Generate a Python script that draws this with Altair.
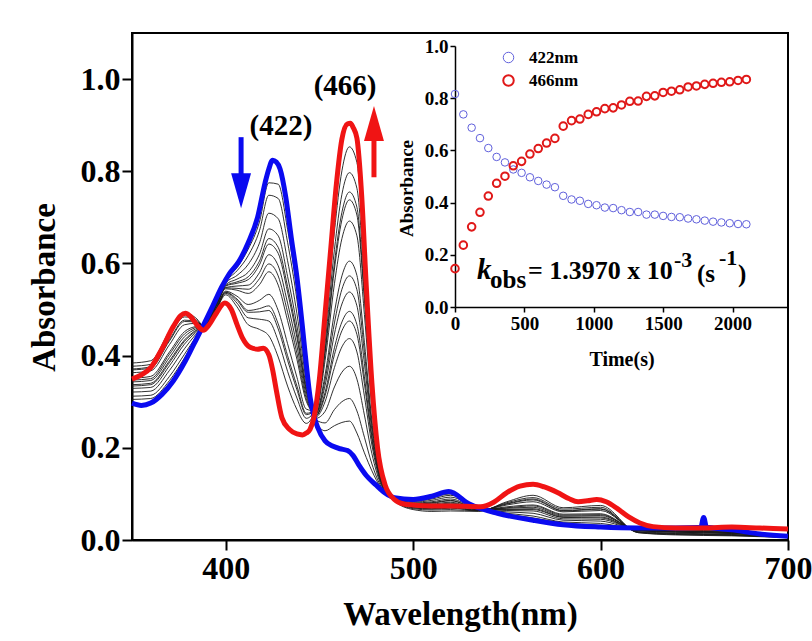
import altair as alt
import pandas as pd

FONT = "Liberation Serif"

# ---------------- main spectra ----------------
blue_nm = [350, 355, 360, 366, 372, 378, 383, 388, 393, 398, 402, 407, 412, 417, 421, 423, 425, 427,
           429, 432, 435, 438, 441, 443, 445, 447, 449, 453, 457, 461, 465, 468, 471, 475, 480, 485,
           490, 500, 510, 519, 530, 545, 564, 580, 600, 620, 640, 652, 653.5, 655, 656.5, 658, 670, 685, 700]
blue_abs = [0.297, 0.292, 0.297, 0.316, 0.345, 0.385, 0.425, 0.465, 0.507, 0.550, 0.578, 0.604, 0.645,
            0.700, 0.775, 0.805, 0.824, 0.820, 0.805, 0.745, 0.655, 0.570, 0.460, 0.380, 0.310, 0.270,
            0.245, 0.215, 0.204, 0.198, 0.194, 0.183, 0.163, 0.140, 0.120, 0.102, 0.092, 0.088, 0.095,
            0.105, 0.078, 0.058, 0.043, 0.033, 0.028, 0.026, 0.026, 0.027, 0.028, 0.049, 0.028, 0.027,
            0.022, 0.013, 0.008]

red_nm = [350, 355, 360, 366, 372, 376, 378.5, 381, 385, 388, 391, 395, 399.5, 403, 406, 409, 413, 417,
          420, 423, 425, 427, 430, 434, 438, 441, 443, 445, 447, 450, 453, 456, 459, 462, 465, 466.5,
          468, 470, 472.5, 475, 478, 481, 485, 490, 495, 500, 510, 520, 536, 543, 550, 557, 564, 570,
          577, 583, 588, 593, 598, 603, 609, 615, 621, 628, 640, 655, 670, 685, 700]
red_abs = [0.349, 0.358, 0.374, 0.415, 0.463, 0.487, 0.492, 0.486, 0.465, 0.455, 0.466, 0.492, 0.514,
           0.500, 0.468, 0.438, 0.418, 0.414, 0.416, 0.402, 0.370, 0.325, 0.265, 0.240, 0.230, 0.228,
           0.232, 0.240, 0.265, 0.350, 0.490, 0.630, 0.770, 0.870, 0.903, 0.904, 0.895, 0.872, 0.750,
           0.550, 0.340, 0.200, 0.120, 0.088, 0.078, 0.076, 0.074, 0.074, 0.072, 0.082, 0.103, 0.117,
           0.121, 0.115, 0.103, 0.090, 0.083, 0.085, 0.088, 0.083, 0.068, 0.050, 0.037, 0.029, 0.026,
           0.026, 0.028, 0.026, 0.024]

# intermediate (thin black) spectra: one row per wavelength, one value per spectrum
black_nm = [350, 360, 370, 378, 384, 389, 395, 400, 406, 412, 418, 423, 428, 433, 438, 443, 448, 453,
            458, 462, 466, 470, 474, 478, 483, 490, 500, 510, 520, 535, 550, 564, 580, 600, 620, 640,
            670, 700]
black_rows = [
    [0.305, 0.312, 0.321, 0.329, 0.334, 0.337, 0.343, 0.347, 0.351, 0.363, 0.369, 0.371, 0.377, 0.384],
    [0.307, 0.314, 0.323, 0.331, 0.337, 0.340, 0.346, 0.350, 0.355, 0.367, 0.373, 0.376, 0.381, 0.389],
    [0.346, 0.355, 0.368, 0.378, 0.385, 0.389, 0.396, 0.403, 0.408, 0.424, 0.432, 0.435, 0.443, 0.453],
    [0.395, 0.403, 0.415, 0.425, 0.431, 0.434, 0.441, 0.447, 0.452, 0.467, 0.474, 0.477, 0.484, 0.493],
    [0.437, 0.440, 0.446, 0.450, 0.453, 0.455, 0.458, 0.461, 0.463, 0.470, 0.473, 0.474, 0.478, 0.482],
    [0.469, 0.469, 0.468, 0.467, 0.467, 0.467, 0.466, 0.466, 0.465, 0.464, 0.464, 0.464, 0.463, 0.462],
    [0.520, 0.518, 0.516, 0.513, 0.512, 0.511, 0.510, 0.508, 0.507, 0.504, 0.503, 0.502, 0.501, 0.499],
    [0.563, 0.560, 0.557, 0.554, 0.552, 0.551, 0.548, 0.547, 0.545, 0.540, 0.538, 0.537, 0.535, 0.532],
    [0.591, 0.584, 0.574, 0.566, 0.560, 0.557, 0.551, 0.546, 0.542, 0.529, 0.523, 0.520, 0.514, 0.506],
    [0.631, 0.617, 0.598, 0.581, 0.571, 0.565, 0.553, 0.544, 0.535, 0.511, 0.498, 0.494, 0.482, 0.467],
    [0.690, 0.671, 0.644, 0.620, 0.605, 0.597, 0.580, 0.567, 0.554, 0.520, 0.502, 0.495, 0.479, 0.457],
    [0.775, 0.748, 0.709, 0.675, 0.654, 0.642, 0.619, 0.599, 0.582, 0.533, 0.508, 0.498, 0.475, 0.443],
    [0.772, 0.741, 0.697, 0.660, 0.635, 0.622, 0.595, 0.573, 0.553, 0.498, 0.469, 0.458, 0.432, 0.397],
    [0.674, 0.646, 0.606, 0.572, 0.550, 0.538, 0.514, 0.494, 0.476, 0.426, 0.400, 0.390, 0.366, 0.334],
    [0.543, 0.521, 0.491, 0.465, 0.448, 0.439, 0.421, 0.405, 0.392, 0.353, 0.334, 0.326, 0.308, 0.283],
    [0.368, 0.358, 0.345, 0.333, 0.326, 0.322, 0.314, 0.307, 0.301, 0.284, 0.275, 0.272, 0.264, 0.253],
    [0.258, 0.261, 0.264, 0.267, 0.269, 0.270, 0.272, 0.274, 0.275, 0.280, 0.282, 0.283, 0.285, 0.288],
    [0.237, 0.254, 0.279, 0.300, 0.313, 0.320, 0.335, 0.347, 0.358, 0.389, 0.405, 0.411, 0.426, 0.445],
    [0.248, 0.283, 0.332, 0.374, 0.402, 0.417, 0.447, 0.471, 0.494, 0.556, 0.588, 0.601, 0.630, 0.670],
    [0.255, 0.300, 0.364, 0.419, 0.454, 0.473, 0.512, 0.544, 0.573, 0.654, 0.695, 0.711, 0.750, 0.801],
    [0.258, 0.307, 0.377, 0.437, 0.475, 0.496, 0.538, 0.573, 0.605, 0.692, 0.738, 0.755, 0.797, 0.853],
    [0.232, 0.280, 0.349, 0.408, 0.446, 0.467, 0.508, 0.543, 0.574, 0.660, 0.705, 0.722, 0.763, 0.819],
    [0.189, 0.223, 0.271, 0.312, 0.339, 0.354, 0.383, 0.407, 0.429, 0.489, 0.521, 0.533, 0.562, 0.601],
    [0.150, 0.165, 0.187, 0.206, 0.218, 0.225, 0.238, 0.249, 0.259, 0.286, 0.301, 0.306, 0.319, 0.337],
    [0.112, 0.115, 0.119, 0.122, 0.125, 0.126, 0.129, 0.131, 0.133, 0.138, 0.141, 0.142, 0.144, 0.147],
    [0.091, 0.091, 0.090, 0.090, 0.089, 0.089, 0.089, 0.088, 0.088, 0.087, 0.087, 0.086, 0.086, 0.085],
    [0.086, 0.084, 0.082, 0.080, 0.079, 0.078, 0.077, 0.076, 0.075, 0.072, 0.070, 0.070, 0.068, 0.066],
    [0.092, 0.089, 0.086, 0.083, 0.081, 0.080, 0.078, 0.076, 0.075, 0.070, 0.068, 0.067, 0.065, 0.062],
    [0.100, 0.097, 0.093, 0.089, 0.086, 0.085, 0.082, 0.080, 0.078, 0.073, 0.070, 0.069, 0.066, 0.063],
    [0.069, 0.069, 0.068, 0.067, 0.067, 0.067, 0.066, 0.066, 0.065, 0.064, 0.064, 0.064, 0.063, 0.062],
    [0.056, 0.058, 0.061, 0.064, 0.066, 0.067, 0.069, 0.070, 0.072, 0.076, 0.078, 0.079, 0.081, 0.083],
    [0.048, 0.052, 0.058, 0.063, 0.066, 0.068, 0.071, 0.074, 0.076, 0.083, 0.087, 0.089, 0.092, 0.097],
    [0.037, 0.039, 0.043, 0.046, 0.049, 0.050, 0.052, 0.054, 0.056, 0.061, 0.063, 0.064, 0.067, 0.070],
    [0.032, 0.036, 0.041, 0.045, 0.048, 0.050, 0.053, 0.055, 0.057, 0.064, 0.067, 0.068, 0.071, 0.075],
    [0.025, 0.024, 0.023, 0.022, 0.022, 0.021, 0.021, 0.020, 0.020, 0.018, 0.017, 0.017, 0.016, 0.016],
    [0.025, 0.023, 0.022, 0.020, 0.020, 0.019, 0.018, 0.017, 0.017, 0.015, 0.014, 0.013, 0.012, 0.011],
    [0.021, 0.020, 0.018, 0.017, 0.016, 0.016, 0.015, 0.014, 0.014, 0.012, 0.011, 0.011, 0.010, 0.009],
    [0.009, 0.009, 0.008, 0.008, 0.007, 0.007, 0.007, 0.007, 0.007, 0.006, 0.006, 0.006, 0.006, 0.005],
]

peak_labels = ["(422)", "(466)"]
peak_label_nm = [429.5, 463.7]
peak_label_abs = [0.879, 0.965]

# arrows (wavelength, shaft start, shaft end, head centre)
blue_arrow = {"nm": [408.2], "A": [0.874], "A2": [0.775], "head": [0.758]}
red_arrow = {"nm": [479.1], "A": [0.787], "A2": [0.87], "head": [0.9035]}

# ---------------- inset kinetics ----------------
time_s = [0, 60, 120, 180, 240, 300, 360, 420, 480, 540, 600, 660, 720, 780, 840, 900, 960, 1020,
          1080, 1140, 1200, 1260, 1320, 1380, 1440, 1500, 1560, 1620, 1680, 1740, 1800, 1860, 1920,
          1980, 2040, 2100]
a422 = [0.816, 0.738, 0.687, 0.647, 0.609, 0.575, 0.554, 0.527, 0.514, 0.497, 0.483, 0.469, 0.459,
        0.426, 0.412, 0.407, 0.395, 0.390, 0.381, 0.379, 0.371, 0.364, 0.364, 0.354, 0.354, 0.349,
        0.345, 0.344, 0.339, 0.336, 0.331, 0.327, 0.324, 0.321, 0.318, 0.317]
a466 = [0.147, 0.237, 0.307, 0.363, 0.425, 0.474, 0.501, 0.541, 0.558, 0.586, 0.607, 0.628, 0.646,
        0.693, 0.714, 0.720, 0.738, 0.748, 0.760, 0.763, 0.774, 0.788, 0.789, 0.807, 0.809, 0.822,
        0.827, 0.832, 0.843, 0.847, 0.853, 0.857, 0.861, 0.863, 0.868, 0.872]
series_names = ["422nm", "466nm"]
kobs_anchor = {"t": [158.6], "A": [0.106]}

# ---------------- build tables ----------------
blue_df = pd.DataFrame({"nm": blue_nm, "A": blue_abs})
red_df = pd.DataFrame({"nm": red_nm, "A": red_abs})
rows = []
for i, w in enumerate(black_nm):
    for k, v in enumerate(black_rows[i]):
        rows.append({"nm": w, "A": v, "curve": k})
black_df = pd.DataFrame(rows)
lab_df = pd.DataFrame({"nm": peak_label_nm, "A": peak_label_abs, "label": peak_labels})
kin_df = pd.concat([
    pd.DataFrame({"t": time_s, "A": a422, "series": series_names[0]}),
    pd.DataFrame({"t": time_s, "A": a466, "series": series_names[1]}),
])
anchor_df = pd.DataFrame(kobs_anchor)

BLUE = "#0a0af0"
RED = "#f01414"

xm = alt.X("nm:Q", scale=alt.Scale(domain=[350, 700], nice=False, zero=False),
           axis=alt.Axis(values=[400, 500, 600, 700], title="Wavelength(nm)", grid=False,
                         labelFont=FONT, labelFontWeight="bold", labelFontSize=32, labelColor="black",
                         titleFont=FONT, titleFontWeight="bold", titleFontSize=33, titleColor="black",
                         tickSize=10, tickWidth=2, tickColor="black", domainWidth=2, domainColor="black",
                         labelPadding=3, labelFlush=False, labelOverlap=False,
                         titleX=328, titleY=84, titleBaseline="alphabetic"))
ym = alt.Y("A:Q", scale=alt.Scale(domain=[0, 1.1], nice=False, zero=False),
           axis=alt.Axis(values=[0, 0.2, 0.4, 0.6, 0.8, 1.0], format=".1f", title="Absorbance", grid=False,
                         labelFont=FONT, labelFontWeight="bold", labelFontSize=32, labelColor="black",
                         titleFont=FONT, titleFontWeight="bold", titleFontSize=33, titleColor="black",
                         tickSize=10, tickWidth=2, tickColor="black", domainWidth=2, domainColor="black",
                         labelPadding=2, labelFlush=False, labelOverlap=False,
                         titleX=-88, titleY=254, titleBaseline="middle"))

black_layer = alt.Chart(black_df).mark_line(color="#1a1a1a", strokeWidth=0.9, interpolate="monotone").encode(
    x=xm, y=ym, detail="curve:N")
blue_layer = alt.Chart(blue_df).mark_line(color=BLUE, strokeWidth=5, interpolate="monotone",
                                          strokeJoin="round").encode(x=xm, y=ym)
red_layer = alt.Chart(red_df).mark_line(color=RED, strokeWidth=5, interpolate="monotone",
                                        strokeJoin="round").encode(x=xm, y=ym)
lab_layer = alt.Chart(lab_df).mark_text(font=FONT, fontWeight="bold", fontSize=29, align="center",
                                        baseline="alphabetic", color="black").encode(x=xm, y=ym, text="label:N")

DOWN = "M-0.57,-1L0.57,-1L0,1Z"
UP = "M-0.57,1L0.57,1L0,-1Z"
ba_df = pd.DataFrame(blue_arrow)
ra_df = pd.DataFrame(red_arrow)
b_shaft = alt.Chart(ba_df).mark_rule(color=BLUE, strokeWidth=5).encode(x=xm, y=ym, y2="A2:Q")
r_shaft = alt.Chart(ra_df).mark_rule(color=RED, strokeWidth=5).encode(x=xm, y=ym, y2="A2:Q")
b_head = alt.Chart(ba_df).mark_point(shape=DOWN, filled=True, size=1225, color=BLUE, opacity=1,
                                     strokeWidth=0).encode(x=xm, y=alt.Y("head:Q"))
r_head = alt.Chart(ra_df).mark_point(shape=UP, filled=True, size=1225, color=RED, opacity=1,
                                     strokeWidth=0).encode(x=xm, y=alt.Y("head:Q"))

main = alt.layer(black_layer, blue_layer, red_layer, lab_layer, b_shaft, r_shaft, b_head, r_head)

# inset
xi = alt.X("t:Q", scale=alt.Scale(domain=[0, 2400], range=[323, 656], nice=False, zero=False),
           axis=alt.Axis(orient="bottom", offset=-233, values=[0, 500, 1000, 1500, 2000], format="d",
                         title="Time(s)",
                         grid=False, labelFont=FONT, labelFontWeight="bold", labelFontSize=19,
                         labelColor="black", titleFont=FONT, titleFontWeight="bold", titleFontSize=20,
                         titleColor="black", tickSize=5, tickWidth=1.5, tickColor="black",
                         domainWidth=1.5, domainColor="black", labelPadding=2, labelFlush=False,
                         labelOverlap=False, titleY=58, titleBaseline="alphabetic"))
yi = alt.Y("A:Q", scale=alt.Scale(domain=[0, 1.0], range=[274, 13], nice=False, zero=False),
           axis=alt.Axis(orient="left", offset=-323, values=[0, 0.2, 0.4, 0.6, 0.8, 1.0], format=".1f",
                         title="Absorbance", grid=False, labelFont=FONT, labelFontWeight="bold",
                         labelFontSize=19, labelColor="black", titleFont=FONT, titleFontWeight="bold",
                         titleFontSize=19, titleColor="black", tickSize=5, tickWidth=1.5, tickColor="black",
                         domainWidth=1.5, domainColor="black", labelPadding=2, labelFlush=False,
                         labelOverlap=False, titleX=-49, titleY=155, titleBaseline="middle"))

pts = alt.Chart(kin_df).mark_point(shape="circle", filled=False, size=57, opacity=1).encode(
    x=xi, y=yi,
    color=alt.Color("series:N", scale=alt.Scale(domain=series_names, range=["#6060dc", "#e01818"]),
                    legend=alt.Legend(orient="none", legendX=368, legendY=16, title=None,
                                      labelFont=FONT, labelFontWeight="bold", labelFontSize=17,
                                      labelColor="black", symbolType="circle", symbolSize=110,
                                      symbolStrokeWidth=1.6, rowPadding=5, labelOffset=12)),
    strokeWidth=alt.StrokeWidth("series:N", scale=alt.Scale(domain=series_names, range=[1.0, 2.0]),
                                legend=None),
)

def kpart(txt, size, dx, dy, style="normal"):
    return alt.Chart(anchor_df).mark_text(text=txt, font=FONT, fontWeight="bold", fontStyle=style,
                                          fontSize=size, align="left", baseline="alphabetic",
                                          dx=dx, dy=dy, color="black").encode(x=xi, y=yi)

kobs = [
    kpart("k", 29, 0, 0, "italic"),
    kpart("obs", 25, 13, 9),
    kpart("= 1.3970 x 10", 26, 51, 0),
    kpart("-3", 22, 197, -12),
    kpart("(s", 25, 220, 3),
    kpart("-1", 22, 242, -14),
    kpart(")", 25, 261, 3),
]

inset = alt.layer(pts, *kobs)

chart = alt.layer(main, inset).resolve_scale(x="independent", y="independent").properties(
    width=656, height=507,
    padding={"left": 132, "top": 33, "right": 24, "bottom": 101},
    autosize=alt.AutoSizeParams(type="none"),
    background="white",
).configure_view(stroke="black", strokeWidth=2)

chart.save("out.html", embed_options={"renderer": "svg", "actions": False})
